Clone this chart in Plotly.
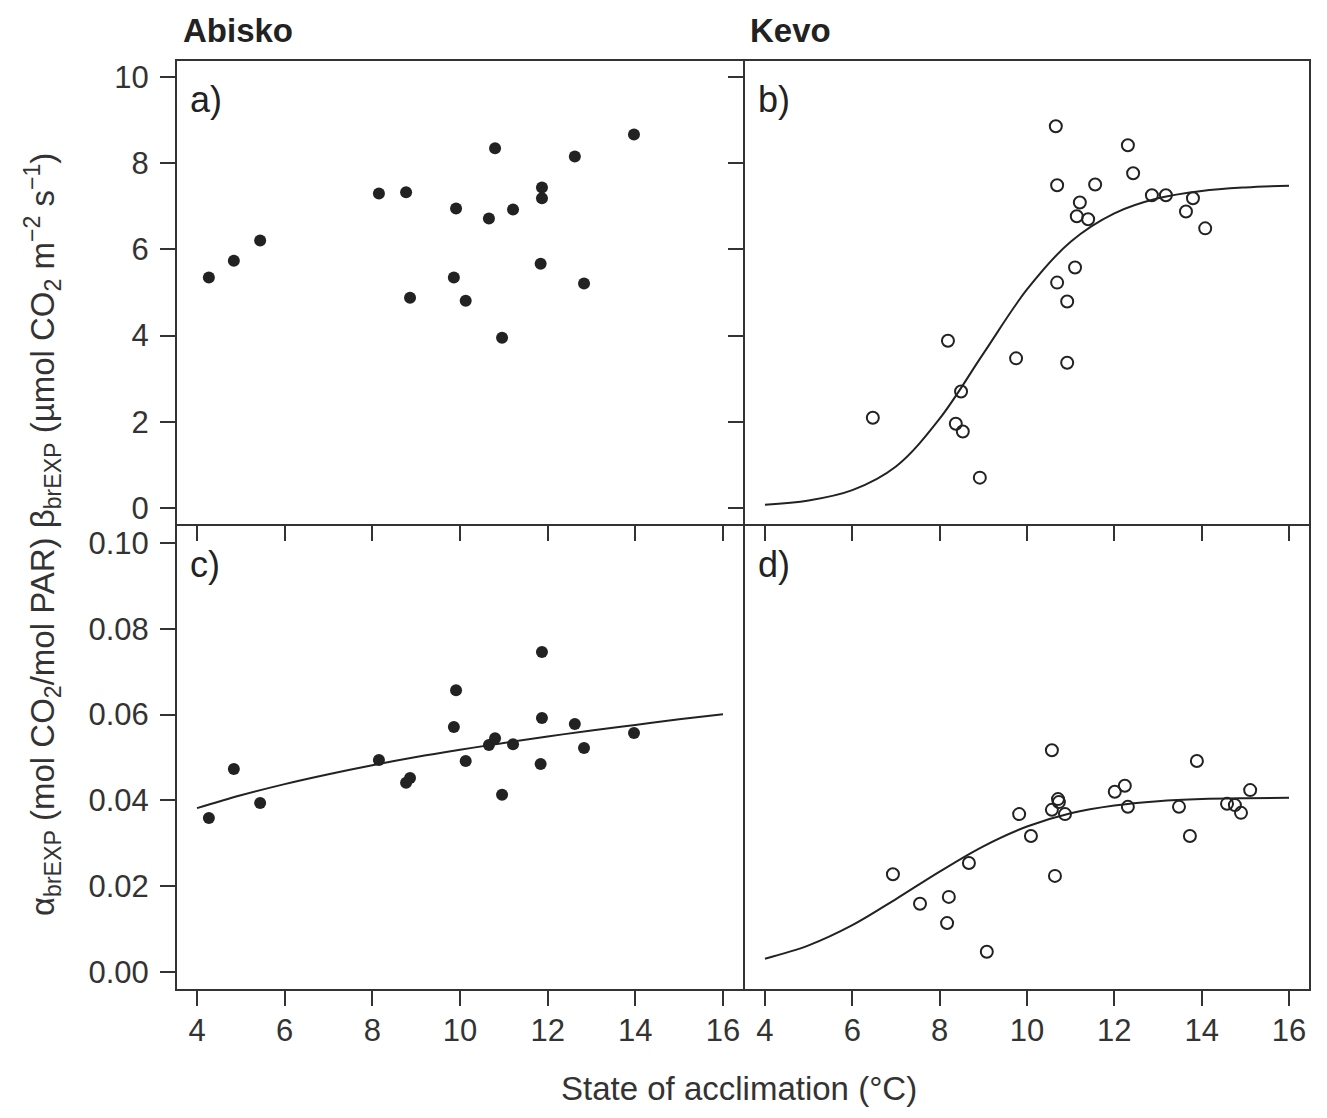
import plotly.graph_objects as go

# --- Abisko (panels a, c): state of acclimation and fitted parameters ---
abisko_temp = [4.27, 4.84, 5.44, 8.15, 8.77, 8.86, 9.91, 9.86, 10.13, 10.66,
               10.80, 10.96, 11.21, 11.87, 11.87, 11.84, 12.62, 12.83, 13.97]
abisko_beta = [5.35, 5.74, 6.21, 7.30, 7.33, 4.88, 6.95, 5.35, 4.81, 6.72,
               8.35, 3.95, 6.93, 7.44, 7.19, 5.67, 8.16, 5.21, 8.67]
abisko_alpha = [0.0359, 0.0473, 0.0394, 0.0494, 0.0441, 0.0452, 0.0657, 0.0571,
                0.0492, 0.0529, 0.0545, 0.0413, 0.0531, 0.0746, 0.0592, 0.0485,
                0.0578, 0.0522, 0.0557]

# --- Kevo (panels b, d) ---
kevo_temp_b = [6.47, 8.19, 8.49, 8.37, 8.53, 8.92, 9.75, 10.66, 10.69, 10.69,
               10.92, 10.92, 11.10, 11.21, 11.14, 11.40, 11.56, 12.31, 12.43,
               12.86, 13.18, 13.64, 13.80, 14.08]
kevo_beta = [2.09, 3.88, 2.70, 1.95, 1.77, 0.70, 3.47, 8.86, 7.49, 5.23,
             4.79, 3.37, 5.58, 7.09, 6.77, 6.70, 7.51, 8.42, 7.77,
             7.26, 7.26, 6.88, 7.19, 6.49]

kevo_temp_d = [10.57, 13.89, 12.24, 12.01, 15.11, 10.71, 10.73, 10.57, 10.87,
               9.82, 12.31, 13.48, 14.58, 14.76, 14.90, 10.09, 13.73, 8.67,
               6.93, 10.64, 7.55, 8.21, 8.17, 9.08]
kevo_alpha = [0.0517, 0.0492, 0.0434, 0.0420, 0.0424, 0.0403, 0.0396, 0.0378,
              0.0368, 0.0368, 0.0385, 0.0385, 0.0392, 0.0389, 0.0371, 0.0317,
              0.0317, 0.0254, 0.0228, 0.0224, 0.0159, 0.0175, 0.0114, 0.0047]

# --- fitted response curves, sampled at whole degrees ---
curve_temp = [4, 5, 6, 7, 8, 9, 10, 11, 12, 13, 14, 15, 16]
fit_alpha_abisko = [0.0382, 0.0412, 0.0438, 0.0461, 0.0482, 0.0501, 0.0518,
                    0.0534, 0.0549, 0.0563, 0.0576, 0.0589, 0.0601]
fit_beta_kevo = [0.07, 0.17, 0.41, 0.96, 2.07, 3.58, 5.07, 6.18, 6.84, 7.19,
                 7.36, 7.44, 7.48]
fit_alpha_kevo = [0.0031, 0.0062, 0.0109, 0.0170, 0.0234, 0.0293, 0.0339,
                  0.0370, 0.0388, 0.0398, 0.0403, 0.0405, 0.0406]

x_ticks = [4, 6, 8, 10, 12, 14, 16]
beta_ticks = [0, 2, 4, 6, 8, 10]
alpha_ticks = [0.00, 0.02, 0.04, 0.06, 0.08, 0.10]

INK = "#222222"
GREY = "#333333"
FONT = "Liberation Sans, Arial, sans-serif"

filled = dict(symbol="circle", size=12, color=INK, line=dict(width=0))
hollow = dict(symbol="circle-open", size=12, color=INK, line=dict(width=2))
fit_line = dict(color=INK, width=2, shape="spline")

fig = go.Figure()
fig.add_trace(go.Scatter(x=abisko_temp, y=abisko_beta, mode="markers",
                         marker=filled, xaxis="x", yaxis="y"))
fig.add_trace(go.Scatter(x=kevo_temp_b, y=kevo_beta, mode="markers",
                         marker=hollow, xaxis="x2", yaxis="y2"))
fig.add_trace(go.Scatter(x=curve_temp, y=fit_beta_kevo, mode="lines",
                         line=fit_line, xaxis="x2", yaxis="y2"))
fig.add_trace(go.Scatter(x=abisko_temp, y=abisko_alpha, mode="markers",
                         marker=filled, xaxis="x3", yaxis="y3"))
fig.add_trace(go.Scatter(x=curve_temp, y=fit_alpha_abisko, mode="lines",
                         line=fit_line, xaxis="x3", yaxis="y3"))
fig.add_trace(go.Scatter(x=kevo_temp_d, y=kevo_alpha, mode="markers",
                         marker=hollow, xaxis="x4", yaxis="y4"))
fig.add_trace(go.Scatter(x=curve_temp, y=fit_alpha_kevo, mode="lines",
                         line=fit_line, xaxis="x4", yaxis="y4"))

split = 568 / 1134
xr = [3.52, 16.48]
beta_range = [-0.4, 10.4]
alpha_range = [-0.0042, 0.1042]

common = dict(showline=False, showgrid=False, zeroline=False,
              ticks="outside", ticklen=15, tickwidth=2, tickcolor=GREY,
              tickfont=dict(family=FONT, size=31, color=GREY))


def xax(domain, anchor, labels):
    return dict(common, domain=domain, anchor=anchor, range=xr,
                tickvals=x_ticks, showticklabels=labels, ticklabelstandoff=-2)


def yax(domain, anchor, rng, vals, labels, ticks="outside", fmt=None):
    d = dict(common, domain=domain, anchor=anchor, range=rng, tickvals=vals,
             showticklabels=labels, ticks=ticks, ticklabelstandoff=5)
    if fmt:
        d["tickformat"] = fmt
    return d


fig.update_layout(
    width=1327, height=1118,
    margin=dict(l=176, r=17, t=60, b=128),
    paper_bgcolor="white", plot_bgcolor="white",
    showlegend=False,
    font=dict(family=FONT, color=INK),
    xaxis=xax([0, split], "y", False),
    yaxis=yax([0.5, 1], "x", beta_range, beta_ticks, True),
    xaxis2=xax([split, 1], "y2", False),
    yaxis2=yax([0.5, 1], "x2", beta_range, beta_ticks, False),
    xaxis3=xax([0, split], "y3", True),
    yaxis3=yax([0, 0.5], "x3", alpha_range, alpha_ticks, True, fmt=".2f"),
    xaxis4=xax([split, 1], "y4", True),
    yaxis4=yax([0, 0.5], "x4", alpha_range, alpha_ticks, False, ticks=""),
)

# panel frames, drawn on the domain edges so shared borders coincide
shapes = []
annotations = []
for label, xr_, yr_ in [("a)", "x", "y"), ("b)", "x2", "y2"),
                        ("c)", "x3", "y3"), ("d)", "x4", "y4")]:
    shapes.append(dict(type="rect", xref=f"{xr_} domain", yref=f"{yr_} domain",
                       x0=0, x1=1, y0=0, y1=1, layer="above",
                       line=dict(color=GREY, width=2)))
    annotations.append(dict(text=label, xref=f"{xr_} domain", yref=f"{yr_} domain",
                            x=0.022, y=0.916, xanchor="left", yanchor="middle",
                            showarrow=False,
                            font=dict(family=FONT, size=36, color=INK)))

# site headings
annotations.append(dict(text="<b>Abisko</b>", xref="paper", yref="paper",
                        x=5 / 1134, y=1 + 30 / 930, xanchor="left", yanchor="middle",
                        showarrow=False, font=dict(family=FONT, size=33, color=INK)))
annotations.append(dict(text="<b>Kevo</b>", xref="paper", yref="paper",
                        x=(748 - 176) / 1134, y=1 + 30 / 930, xanchor="left",
                        yanchor="middle", showarrow=False,
                        font=dict(family=FONT, size=33, color=INK)))

# shared axis titles
annotations.append(dict(text="State of acclimation (°C)", xref="paper", yref="paper",
                        x=(739 - 176) / 1134, y=-(1088 - 990) / 930,
                        xanchor="center", yanchor="middle", showarrow=False,
                        font=dict(family=FONT, size=33, color=GREY)))
annotations.append(dict(
    text="α<sub>brEXP</sub> (mol CO<sub>2</sub>/mol PAR) "
         "β<sub>brEXP</sub> (µmol CO<sub>2</sub> m<sup>−2</sup> s<sup>−1</sup>)",
    xref="paper", yref="paper", x=(42 - 176) / 1134, y=(990 - 535) / 930,
    xanchor="center", yanchor="middle", textangle=-90, showarrow=False,
    font=dict(family=FONT, size=33, color=GREY)))

fig.update_layout(shapes=shapes, annotations=annotations)

fig.write_html("out.html")
